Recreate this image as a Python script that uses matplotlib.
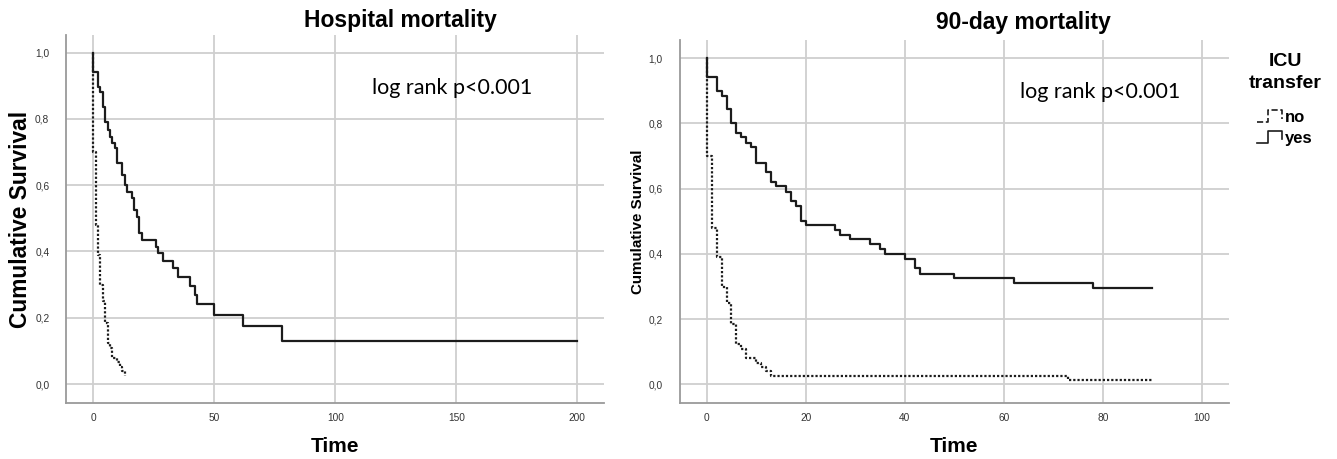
import matplotlib
matplotlib.use("Agg")
import matplotlib.pyplot as plt
from matplotlib.legend_handler import HandlerBase
from matplotlib.lines import Line2D

# ---------------- data ----------------
# Hospital mortality (left panel)
hosp_yes_t = [0, 0, 2, 3, 4, 5, 6, 7, 8, 9, 10, 12, 13, 14, 16, 17, 18, 19, 20,
              26, 27, 29, 33, 35, 40, 42, 43, 50, 62, 78, 200]
hosp_yes_s = [1.0, 0.942, 0.897, 0.882, 0.837, 0.792, 0.767, 0.746, 0.727, 0.711,
              0.666, 0.630, 0.601, 0.578, 0.560, 0.525, 0.505, 0.455, 0.435,
              0.414, 0.394, 0.371, 0.349, 0.324, 0.296, 0.269, 0.243, 0.208,
              0.175, 0.131, 0.131]
hosp_no_t = [0, 0, 1, 2, 3, 4, 5, 6, 7, 8, 10, 11, 12, 13]
hosp_no_s = [1.0, 0.70, 0.48, 0.39, 0.30, 0.25, 0.185, 0.123, 0.11, 0.08,
             0.066, 0.052, 0.038, 0.024]

# 90-day mortality (right panel)
d90_yes_t = [0, 0, 2, 3, 4, 5, 6, 7, 8, 9, 10, 12, 13, 14, 16, 17, 18, 19, 20,
             26, 27, 29, 33, 35, 36, 40, 42, 43, 50, 62, 78, 90]
d90_yes_s = [1.0, 0.944, 0.900, 0.885, 0.844, 0.800, 0.770, 0.758, 0.740, 0.727,
             0.680, 0.652, 0.620, 0.608, 0.590, 0.563, 0.547, 0.502, 0.489,
             0.474, 0.458, 0.445, 0.430, 0.414, 0.400, 0.385, 0.356, 0.340,
             0.325, 0.310, 0.296, 0.296]
d90_no_t = [0, 0, 1, 2, 3, 4, 5, 6, 7, 8, 10, 11, 12, 13, 73, 90]
d90_no_s = [1.0, 0.70, 0.48, 0.39, 0.30, 0.25, 0.185, 0.123, 0.11, 0.08,
            0.066, 0.052, 0.040, 0.026, 0.013, 0.013]

y_ticks = [0.0, 0.2, 0.4, 0.6, 0.8, 1.0]
y_ticklabels = ["0,0", "0,2", "0,4", "0,6", "0,8", "1,0"]
hosp_x_ticks = [0, 50, 100, 150, 200]
d90_x_ticks = [0, 20, 40, 60, 80, 100]

titles = ["Hospital mortality", "90-day mortality"]
annot = "log rank p<0.001"
legend_title = ["ICU", "transfer"]
group_labels = ["no", "yes"]

# ---------------- style ----------------
W, H = 1337, 459
fig = plt.figure(figsize=(W / 100, H / 100), dpi=100)
SANS = ["Liberation Sans", "DejaVu Sans"]
plt.rcParams["font.family"] = SANS

LINE_COL = "#1c1c1c"
GRID_COL = "#cfcfcf"
SPINE_COL = "#9a9a9a"


def fx(px):
    return px / W


def fy(py):
    return 1 - py / H


def make_axes(left, right, top, bottom):
    return fig.add_axes([fx(left), fy(bottom), fx(right) - fx(left), fy(top) - fy(bottom)])


axL = make_axes(66, 604, 35, 403.3)
axR = make_axes(679.5, 1229, 40, 403.3)


def style(ax, xticks, xlim, ylim):
    ax.set_xlim(*xlim)
    ax.set_ylim(*ylim)
    ax.set_xticks(xticks)
    ax.set_xticklabels([str(v) for v in xticks])
    ax.set_yticks(y_ticks)
    ax.set_yticklabels(y_ticklabels)
    ax.grid(True, color=GRID_COL, linewidth=1.3)
    ax.set_axisbelow(True)
    for s in ["top", "right"]:
        ax.spines[s].set_visible(False)
    for s in ["left", "bottom"]:
        ax.spines[s].set_color(SPINE_COL)
        ax.spines[s].set_linewidth(1.3)
    ax.tick_params(axis="both", length=0, labelsize=7.3, labelcolor="#333333")
    ax.tick_params(axis="y", pad=12)
    ax.tick_params(axis="x", pad=7)


style(axL, hosp_x_ticks, (-11.2, 211), (-0.058, 1.053))
style(axR, d90_x_ticks, (-5.5, 105.5), (-0.058, 1.056))

dotted = (0, (1.0, 0.9))
axL.step(hosp_no_t, hosp_no_s, where="post", color=LINE_COL, lw=1.6, linestyle=dotted)
axL.step(hosp_yes_t, hosp_yes_s, where="post", color=LINE_COL, lw=1.6)
l_no, = axR.step(d90_no_t, d90_no_s, where="post", color=LINE_COL, lw=1.6, linestyle=dotted)
l_yes, = axR.step(d90_yes_t, d90_yes_s, where="post", color=LINE_COL, lw=1.6)

# titles and labels
fig.text(fx(400), fy(20), titles[0], ha="center", va="center", fontsize=16.5, fontweight="bold")
fig.text(fx(1023), fy(23), titles[1], ha="center", va="center", fontsize=16.5, fontweight="bold")
fig.text(fx(335), fy(447), "Time", ha="center", va="center", fontsize=15, fontweight="bold")
fig.text(fx(954), fy(447), "Time", ha="center", va="center", fontsize=15, fontweight="bold")
fig.text(fx(21), fy(219), "Cumulative Survival", ha="center", va="center", rotation=90,
         fontsize=16.4, fontweight="bold")
fig.text(fx(638), fy(222), "Cumulative Survival", ha="center", va="center", rotation=90,
         fontsize=10.9, fontweight="bold")

ANNOT_FONT = ["Lato", "DejaVu Sans"]
fig.text(fx(372), fy(88), annot, ha="left", va="center", fontsize=15.5, family=ANNOT_FONT)
fig.text(fx(1019.5), fy(92), annot, ha="left", va="center", fontsize=15.5, family=ANNOT_FONT)

# legend title
fig.text(fx(1285), fy(62), legend_title[0], ha="center", va="center", fontsize=14,
         fontweight="bold")
fig.text(fx(1285), fy(84), legend_title[1], ha="center", va="center", fontsize=14,
         fontweight="bold")


class StepHandler(HandlerBase):
    def create_artists(self, legend, orig_handle, xdescent, ydescent, width, height,
                       fontsize, trans):
        x0, y0 = -xdescent, -ydescent
        xs = [x0, x0 + 0.45 * width, x0 + 0.45 * width, x0 + width, x0 + width]
        ys = [y0 + 0.0 * height, y0 + 0.0 * height, y0 + 1.05 * height,
              y0 + 1.05 * height, y0 + 0.3 * height]
        ln = Line2D(xs, ys, color=orig_handle.get_color(), lw=1.2,
                    linestyle=orig_handle.get_linestyle())
        ln.set_transform(trans)
        return [ln]


leg = fig.legend([l_no, l_yes], group_labels, loc="upper left",
                 bbox_to_anchor=(fx(1257), fy(110)), frameon=False,
                 handler_map={Line2D: StepHandler()}, handlelength=1.5,
                 handletextpad=0.15, labelspacing=0.35, fontsize=12,
                 borderpad=0, borderaxespad=0)
for t in leg.get_texts():
    t.set_fontweight("bold")

fig.savefig("out.png", dpi=100)
